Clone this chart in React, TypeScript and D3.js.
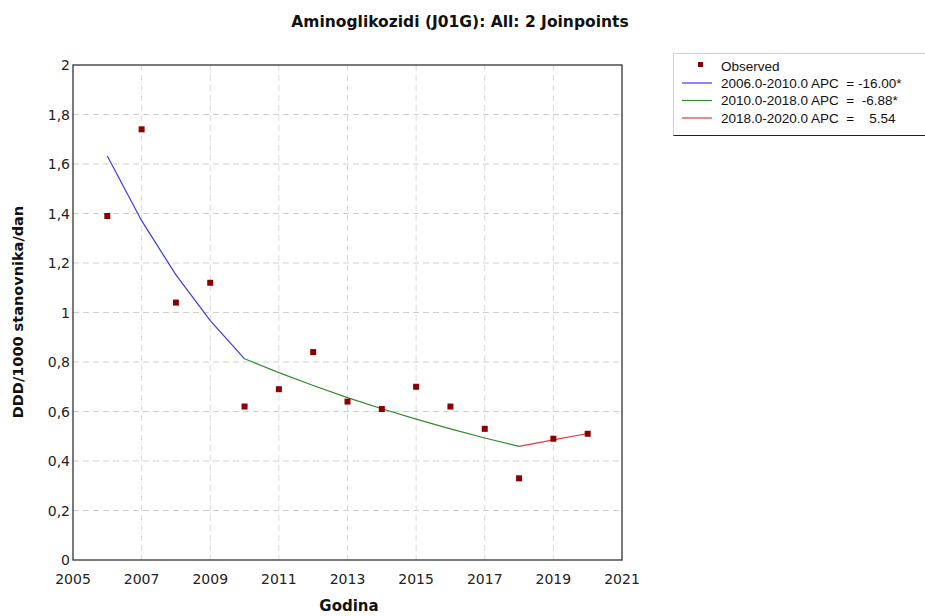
import React from "react";
import * as d3 from "d3";

// Observed values per year
const years = [2006, 2007, 2008, 2009, 2010, 2011, 2012, 2013, 2014, 2015, 2016, 2017, 2018, 2019, 2020];
const observed = [1.39, 1.74, 1.04, 1.12, 0.62, 0.69, 0.84, 0.64, 0.61, 0.70, 0.62, 0.53, 0.33, 0.49, 0.51];

// Fitted joinpoint segments
const seg1Years = [2006, 2007, 2008, 2009, 2010];
const seg1Values = [1.632, 1.371, 1.152, 0.967, 0.813];
const seg2Years = [2010, 2011, 2012, 2013, 2014, 2015, 2016, 2017, 2018];
const seg2Values = [0.813, 0.757, 0.705, 0.656, 0.611, 0.569, 0.530, 0.493, 0.459];
const seg3Years = [2018, 2019, 2020];
const seg3Values = [0.459, 0.485, 0.511];

const xTicks = [2005, 2007, 2009, 2011, 2013, 2015, 2017, 2019, 2021];
const yTicks = [0, 0.2, 0.4, 0.6, 0.8, 1, 1.2, 1.4, 1.6, 1.8, 2];

const legendLabels = [
  "Observed",
  "2006.0-2010.0 APC  = -16.00*",
  "2010.0-2018.0 APC  =  -6.88*",
  "2018.0-2020.0 APC  =    5.54",
];
const segColors = ["#3a3ae8", "#2e8b2e", "#e23a3a"];
const markerColor = "#8b0000";

const W = 925;
const H = 616;
const left = 73;
const right = 622;
const top = 65;
const bottom = 560;

export default function App() {
  const x = d3.scaleLinear().domain([2005, 2021]).range([left, right]);
  const y = d3.scaleLinear().domain([0, 2]).range([bottom, top]);
  const line = d3
    .line<[number, number]>()
    .x((d) => x(d[0]))
    .y((d) => y(d[1]));
  const segs = [
    d3.zip(seg1Years, seg1Values) as [number, number][],
    d3.zip(seg2Years, seg2Values) as [number, number][],
    d3.zip(seg3Years, seg3Values) as [number, number][],
  ];
  const fmt = (v: number) => String(+v.toFixed(1)).replace(".", ",");
  const font = "DejaVu Sans, Verdana, sans-serif";

  return (
    <svg
      width={W}
      height={H}
      style={{ position: "absolute", left: 0, top: 0, background: "#fff" }}
      fontFamily={font}
    >
      <rect width={W} height={H} fill="#fff" />
      <text x={460} y={27} textAnchor="middle" fontSize={15.5} fontWeight="bold" fill="#111">
        Aminoglikozidi (J01G): All: 2 Joinpoints
      </text>

      {/* grid */}
      {yTicks.slice(1, -1).map((t) => (
        <line key={"gy" + t} x1={left} x2={right} y1={y(t)} y2={y(t)} stroke="#cfcfcf" strokeDasharray="6,4" />
      ))}
      {xTicks.slice(1, -1).map((t) => (
        <line key={"gx" + t} x1={x(t)} x2={x(t)} y1={top} y2={bottom} stroke="#dadada" strokeDasharray="6,4" />
      ))}

      {/* frame */}
      <rect x={left} y={top} width={right - left} height={bottom - top} fill="none" stroke="#333" strokeWidth={1.3} />

      {/* tick labels */}
      {yTicks.map((t) => (
        <text key={"ty" + t} x={left - 3} y={y(t) + 5} textAnchor="end" fontSize={14} fill="#222">
          {fmt(t)}
        </text>
      ))}
      {xTicks.map((t) => (
        <text key={"tx" + t} x={x(t)} y={584} textAnchor="middle" fontSize={14} fill="#222">
          {t}
        </text>
      ))}

      {/* axis titles */}
      <text x={349} y={611} textAnchor="middle" fontSize={15} fontWeight="bold" fill="#111">
        Godina
      </text>
      <text
        transform={`translate(23,${312}) rotate(-90)`}
        textAnchor="middle"
        fontSize={14.5}
        fontWeight="bold"
        fill="#111"
      >
        DDD/1000 stanovnika/dan
      </text>

      {/* fitted segments */}
      {segs.map((s, i) => (
        <path key={"s" + i} d={line(s) || ""} fill="none" stroke={segColors[i]} strokeWidth={1.2} />
      ))}

      {/* observed */}
      {years.map((yr, i) => (
        <rect key={"o" + yr} x={x(yr) - 3} y={y(observed[i]) - 3} width={6} height={6} fill={markerColor} />
      ))}

      {/* legend */}
      <g fontFamily="Liberation Sans, Arial, sans-serif" fontSize={13.5} fill="#111">
        <rect x={673.5} y={53.5} width={260} height={82} fill="#fff" stroke="#d0d0d0" />
        <line x1={673.5} x2={W} y1={135.5} y2={135.5} stroke="#222" />
        <rect x={698} y={62} width={5} height={5} fill={markerColor} />
        <text x={721} y={71}>{legendLabels[0]}</text>
        {segColors.map((c, i) => (
          <g key={"l" + i}>
            <line x1={682} x2={712} y1={83 + i * 17.5} y2={83 + i * 17.5} stroke={c} strokeWidth={1.2} />
            <text x={721} y={87.5 + i * 17.5} style={{ whiteSpace: "pre" }}>
              {legendLabels[i + 1]}
            </text>
          </g>
        ))}
      </g>
    </svg>
  );
}
